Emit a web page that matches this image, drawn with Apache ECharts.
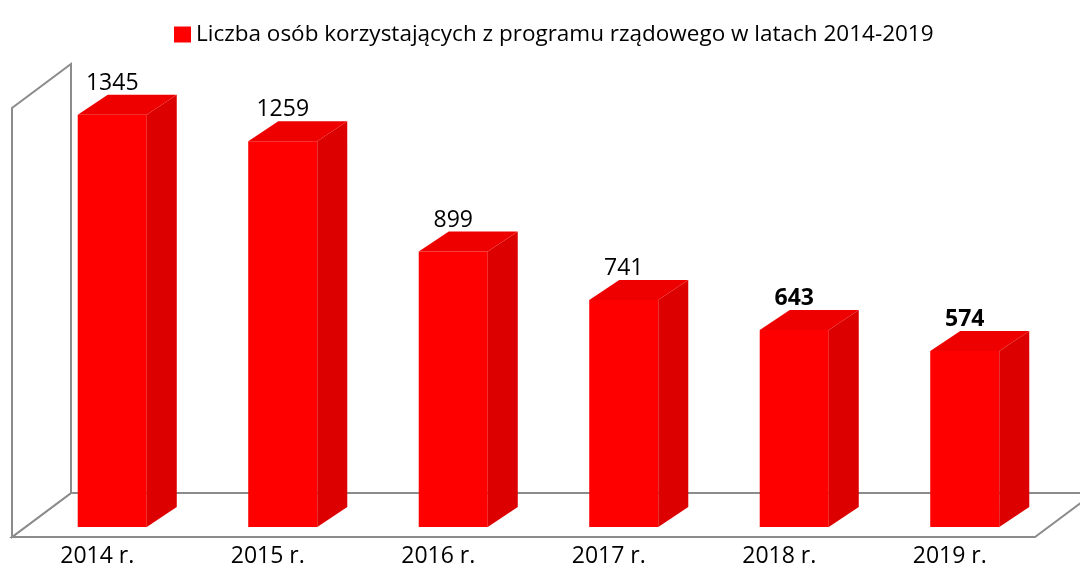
<!DOCTYPE html>
<html>

<head>
    <meta charset="utf-8" />
    <script src="https://cdn.jsdelivr.net/npm/echarts@6/dist/echarts.min.js"></script>
    <title>Liczba osób</title>
    <style>
        html, body {
            margin: 0;
            padding: 0;
            background: #fff;
        }

        #chart {
            width: 1080px;
            height: 570px;
        }
    </style>
</head>

<body>
    <div id="chart"></div>
    <script type="text/javascript">
        var categories = ['2014 r.', '2015 r.', '2016 r.', '2017 r.', '2018 r.', '2019 r.'];
        var values = [1345, 1259, 899, 741, 643, 574];
        var seriesName = 'Liczba osób korzystających z programu rządowego w latach 2014-2019';
        var yMax = 1400;

        var font = '"Open Sans", "Liberation Sans", sans-serif';
        // pseudo 3D: box depth, bar position inside box and bar depth (px)
        var boxDepth = [59, -44];
        var barOffset = [15, -10];
        var barDepth = [30, -20];

        var chart = echarts.init(document.getElementById('chart'));

        function renderBox(params, api) {
            var band = api.size([1, 0])[0];
            var p0 = api.coord([0, 0]);
            var pTop = api.coord([0, yMax]);
            var pN = api.coord([categories.length - 1, 0]);
            var left = p0[0] - band / 2;
            var right = pN[0] + band / 2;
            var bottom = p0[1];
            var top = pTop[1];
            var dx = boxDepth[0], dy = boxDepth[1];
            var line = { fill: '#fff', stroke: '#8c8c8c', lineWidth: 2 };
            return {
                type: 'group',
                children: [{
                    type: 'polygon',
                    shape: { points: [[left, bottom], [right, bottom], [right + dx, bottom + dy], [left + dx, bottom + dy]] },
                    style: line
                }, {
                    type: 'polygon',
                    shape: { points: [[left, bottom], [left, top], [left + dx, top + dy], [left + dx, bottom + dy]] },
                    style: line
                }]
            };
        }

        function renderBar(params, api) {
            var i = api.value(0);
            var v = api.value(1);
            var base = api.coord([i, 0]);
            var peak = api.coord([i, v]);
            var w = api.size([1, 0])[0] * 0.405;
            var x0 = base[0] - w / 2 + barOffset[0];
            var x1 = x0 + w;
            var yb = base[1] + barOffset[1];
            var yt = peak[1] + barOffset[1];
            var dx = barDepth[0], dy = barDepth[1];
            return {
                type: 'group',
                children: [{
                    type: 'polygon',
                    shape: { points: [[x0, yb], [x1, yb], [x1, yt], [x0, yt]] },
                    style: { fill: '#ff0000' }
                }, {
                    type: 'polygon',
                    shape: { points: [[x1, yb], [x1 + dx, yb + dy], [x1 + dx, yt + dy], [x1, yt]] },
                    style: { fill: '#dc0000' }
                }, {
                    type: 'polygon',
                    shape: { points: [[x0, yt], [x1, yt], [x1 + dx, yt + dy], [x0 + dx, yt + dy]] },
                    style: { fill: '#ee0000' }
                }, {
                    type: 'text',
                    x: (x0 + x1) / 2,
                    y: yt + dy,
                    style: {
                        text: String(v),
                        align: 'center',
                        verticalAlign: 'bottom',
                        fontFamily: font,
                        fontSize: 23,
                        fontWeight: i >= 4 ? 'bold' : 'normal',
                        fill: '#000'
                    }
                }]
            };
        }

        var option = {
            animation: false,
            legend: {
                left: 169,
                top: 18,
                itemWidth: 17,
                itemHeight: 16,
                textStyle: {
                    fontFamily: font,
                    fontSize: 22.5,
                    color: '#000'
                },
                data: [{ name: seriesName, icon: 'rect', itemStyle: { color: '#ff0000' } }]
            },
            grid: {
                left: 12,
                right: 45,
                top: 108,
                bottom: 33
            },
            xAxis: {
                type: 'category',
                data: categories,
                axisLine: { show: false },
                axisTick: { show: false },
                axisLabel: {
                    margin: 8,
                    color: '#000',
                    fontFamily: font,
                    fontSize: 23
                }
            },
            yAxis: {
                type: 'value',
                min: 0,
                max: yMax,
                show: false,
                splitLine: { show: false }
            },
            series: [{
                name: 'box',
                type: 'custom',
                silent: true,
                renderItem: renderBox,
                data: [[0, 0]],
                z: 1
            }, {
                name: seriesName,
                type: 'custom',
                renderItem: renderBar,
                itemStyle: { color: '#ff0000' },
                data: values.map(function(v, i) {
                    return [i, v];
                }),
                z: 2
            }]
        };
        chart.setOption(option);
    </script>
</body>

</html>
